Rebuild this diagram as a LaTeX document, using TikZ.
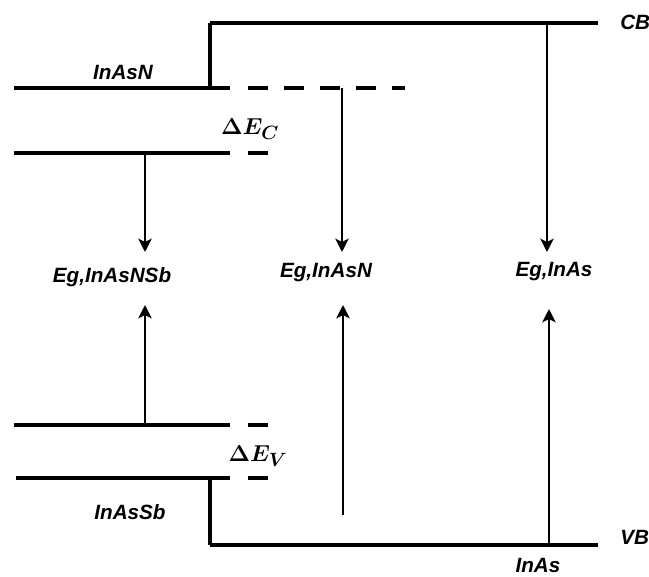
\documentclass[tikz,border=0pt]{standalone}
\usepackage{amsmath,bm}
\usepackage{fontspec}
\setmainfont{Liberation Sans}
\usetikzlibrary{arrows.meta}

\begin{document}
\begin{tikzpicture}[x=0.75pt,y=-0.75pt,>={Stealth[length=10pt,width=10pt,inset=2.5pt]},
        level/.style={line width=3.2pt},
        offset/.style={line width=3.2pt,dash pattern=on 15pt off 12pt},
        riser/.style={line width=2.3pt},
        gap/.style={->,line width=2pt},
        lbl/.style={font=\fontsize{15.5}{18}\selectfont\bfseries\itshape,inner sep=0pt},
        delta/.style={font=\fontsize{19}{22}\selectfont,inner sep=0pt}]
        \useasboundingbox (0,0) rectangle (649,577);

        % InAs bands
        \coordinate (cb0) at (210,23);
        \coordinate (cb1) at (598,23);
        \coordinate (vb0) at (210,545);
        \coordinate (vb1) at (598,545);
        % InAsN conduction band
        \coordinate (n0) at (14,88);
        \coordinate (n1) at (230,88);
        \coordinate (n2) at (405,88);
        % InAsNSb bands
        \coordinate (ns0) at (14,153);
        \coordinate (ns1) at (230,153);
        \coordinate (ns2) at (268,153);
        \coordinate (nv0) at (14,425);
        \coordinate (nv1) at (230,425);
        \coordinate (nv2) at (268,425);
        % InAsSb valence band
        \coordinate (s0) at (16,478);
        \coordinate (s1) at (230,478);
        \coordinate (s2) at (268,478);

        \draw[level] (n0) -- (n1);
        \draw[offset] (248,88) -- (n2);
        \draw[level] (ns0) -- (ns1);
        \draw[offset] (248,153) -- (ns2);
        \draw[level] (nv0) -- (nv1);
        \draw[offset] (248,425) -- (nv2);
        \draw[level] (s0) -- (s1);
        \draw[offset] (248,478) -- (s2);
        \draw[level] (cb0) -- (cb1);
        \draw[level] (vb0) -- (vb1);
        \draw[riser] (cb0) -- (210,88);
        \draw[riser] (210,478) -- (vb0);

        % labels
        \node[lbl] (cb) [anchor=west] at (620,22) {CB};
        \node[lbl] (vb) [anchor=west] at (620,537) {VB};
        \node[lbl] (inasn) at (123,72) {InAsN};
        \node[lbl] (inassb) at (130,512) {InAsSb};
        \node[lbl] (inas) at (538,565) {InAs};
        \node[delta] (dec) at (250,129) {$\bm{\Delta E_C}$};
        \node[delta] (dev) at (258,456) {$\bm{\Delta E_V}$};
        \node[lbl] (g1) at (112,277) {Eg,InAsNSb};
        \node[lbl] (g2) at (326,273) {Eg,InAsN};
        \node[lbl] (g3) at (554,272) {Eg,InAs};

        % transitions
        \draw[gap] (145,153) -- (145,252);
        \draw[gap] (145,425) -- (145,305);
        \draw[gap] (342,88) -- (342,252);
        \draw[gap] (343,515) -- (343,305);
        \draw[gap] (547,23) -- (547,252);
        \draw[gap] (549,545) -- (549,309);
\end{tikzpicture}
\end{document}
